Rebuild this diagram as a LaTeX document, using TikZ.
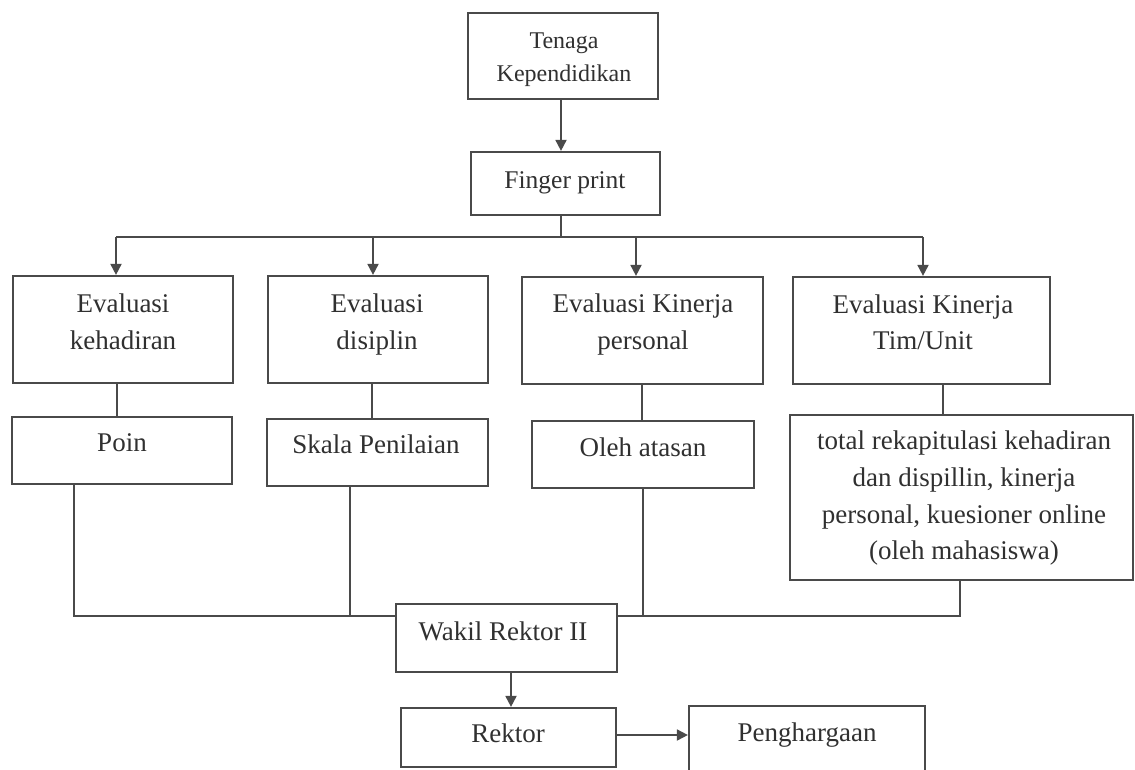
\documentclass[tikz,border=0pt]{standalone}
\usepackage{fontspec}
\setmainfont{Liberation Serif}
\usetikzlibrary{arrows.meta}
\definecolor{lc}{HTML}{4A4A4A}
\definecolor{tc}{HTML}{303030}
\begin{document}
\begin{tikzpicture}[x=1pt,y=-1pt,
  box/.style={draw=lc, line width=2.2pt, fill=white, inner sep=0pt},
  lbl/.style={text=tc, inner sep=0pt, align=center, font=\fontsize{27}{36.7}\selectfont},
  con/.style={draw=lc, line width=1.8pt},
  arr/.style={con, -{Triangle[length=11pt,width=11pt]}}]
\useasboundingbox[fill=white] (0,0) rectangle (1135,769);

% boxes
\node[box, minimum width=190pt, minimum height=86pt] (tenaga) at (563,56) {};
\node[box, minimum width=189pt, minimum height=63pt] (finger) at (565.5,183.5) {};
\node[box, minimum width=220pt, minimum height=107pt] (kehadiran) at (123,329.5) {};
\node[box, minimum width=220pt, minimum height=107pt] (disiplin) at (378,329.5) {};
\node[box, minimum width=241pt, minimum height=107pt] (personal) at (642.5,330.5) {};
\node[box, minimum width=257pt, minimum height=107pt] (tim) at (921.5,330.5) {};
\node[box, minimum width=220pt, minimum height=67pt] (poin) at (122,450.5) {};
\node[box, minimum width=221pt, minimum height=67pt] (skala) at (377.5,452.5) {};
\node[box, minimum width=222pt, minimum height=67pt] (oleh) at (643,454.5) {};
\node[box, minimum width=343pt, minimum height=165pt] (total) at (961.5,497.5) {};
\node[box, minimum width=221pt, minimum height=68pt] (wakil) at (506.5,638) {};
\node[box, minimum width=215pt, minimum height=59pt] (rektor) at (508.5,737.5) {};
\node[box, minimum width=236pt, minimum height=66pt] (pengh) at (807,739) {};

% texts
\node[lbl, font=\fontsize{24}{32.4}\selectfont, anchor=north] (tenagaT) at (564,25.8) {\strut Tenaga\\\strut Kependidikan};
\node[lbl, font=\fontsize{25.5}{30}\selectfont, anchor=base] (fingerT) at (565,188) {Finger print};
\node[lbl, anchor=north] (kehadiranT) at (123,286.8) {\strut Evaluasi\\\strut kehadiran};
\node[lbl, anchor=north] (disiplinT) at (377,286.8) {\strut Evaluasi\\\strut disiplin};
\node[lbl, anchor=north] (personalT) at (643,286.8) {\strut Evaluasi Kinerja\\\strut personal};
\node[lbl, anchor=north] (timT) at (923,287.3) {\strut Evaluasi Kinerja\\\strut Tim/Unit};
\node[lbl, anchor=base] (poinT) at (122,451) {Poin};
\node[lbl, anchor=base] (skalaT) at (376,453) {Skala Penilaian};
\node[lbl, anchor=base] (olehT) at (643,456.5) {Oleh atasan};
\node[lbl, anchor=north] (totalT) at (964,423.8) {\strut total rekapitulasi kehadiran\\\strut dan dispillin, kinerja\\\strut personal, kuesioner online\\\strut (oleh mahasiswa)};
\node[lbl, anchor=base] (wakilT) at (503,640) {Wakil Rektor II};
\node[lbl, anchor=base] (rektorT) at (508,742) {Rektor};
\node[lbl, anchor=base] (penghT) at (807,741) {Penghargaan};

% helper coordinates
\coordinate (xT) at (561,0);
\coordinate (busY) at (0,237);
\coordinate (bus2) at (0,616);
\coordinate (bL) at (116,237);
\coordinate (bD) at (373,237);
\coordinate (bP) at (636,237);
\coordinate (bR) at (923,237);
\coordinate (v1) at (117,0);
\coordinate (v2) at (372,0);
\coordinate (v3) at (642,0);
\coordinate (v4) at (943,0);
\coordinate (w1) at (74,0);
\coordinate (w2) at (350,0);
\coordinate (w3) at (643,0);
\coordinate (w4) at (960,0);
\coordinate (wr) at (511,0);
\coordinate (ry) at (0,735);

% connectors
\draw[arr] (tenaga.south -| xT) -- (finger.north -| xT);
\draw[con] (finger.south -| xT) -- (xT |- busY);
\draw[con] (bL) -- (bR);
\draw[arr] (bL) -- (kehadiran.north -| bL);
\draw[arr] (bD) -- (disiplin.north -| bD);
\draw[arr] (bP) -- (personal.north -| bP);
\draw[arr] (bR) -- (tim.north -| bR);
\draw[con] (kehadiran.south -| v1) -- (poin.north -| v1);
\draw[con] (disiplin.south -| v2) -- (skala.north -| v2);
\draw[con] (personal.south -| v3) -- (oleh.north -| v3);
\draw[con] (tim.south -| v4) -- (total.north -| v4);
\draw[con] (poin.south -| w1) |- (wakil.west |- bus2);
\draw[con] (skala.south -| w2) -- (w2 |- bus2);
\draw[con] (oleh.south -| w3) -- (w3 |- bus2);
\draw[con] (total.south -| w4) |- (wakil.east |- bus2);
\draw[arr] (wakil.south -| wr) -- (rektor.north -| wr);
\draw[arr] (rektor.east |- ry) -- (pengh.west |- ry);
\end{tikzpicture}
\end{document}
